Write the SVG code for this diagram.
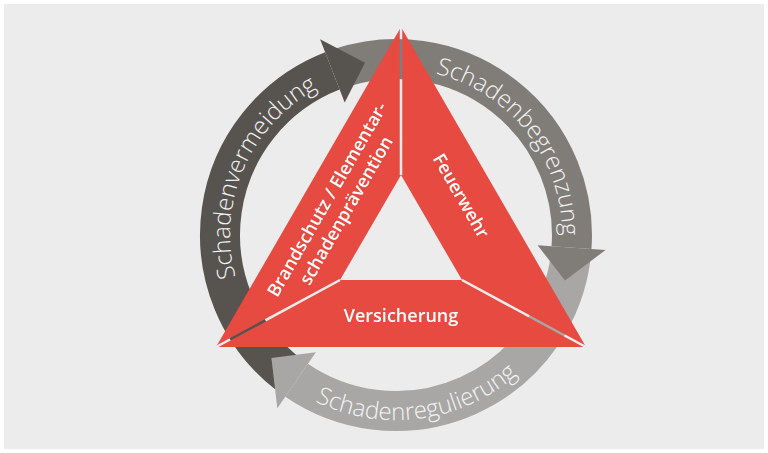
<svg xmlns="http://www.w3.org/2000/svg" width="768" height="453" viewBox="0 0 768 453">
  <style>
    .band { fill: none; stroke-width: 40; stroke-linecap: butt; }
    .ring-label { font-family: "Open Sans", "Noto Sans", "Liberation Sans", sans-serif; font-weight: 300; font-size: 24px; fill: #f4f4f4; }
    .piece { fill: #e64a40; }
    .node-label { font-family: "Open Sans", "Noto Sans", "Liberation Sans", sans-serif; font-weight: 600; font-size: 18px; fill: #ffffff; text-anchor: middle; }
  </style>
  <defs>
    <path id="p-verm" d="M292.7,364.9 A166,166 0 0 1 420.5,70.8"/>
    <path id="p-begr" d="M331.1,82.2 A166,166 0 0 1 528.6,334.9"/>
    <path id="p-regu" d="M225.2,306.1 A185,185 0 0 0 579.5,258.8"/>
    <mask id="gaps" maskUnits="userSpaceOnUse" x="0" y="0" width="768" height="453">
      <rect x="0" y="0" width="768" height="453" fill="#fff"/>
      <g stroke="#000" stroke-width="2.5">
        <line x1="401" y1="15" x2="401" y2="175"/>
        <line x1="340" y1="280" x2="205" y2="353"/>
        <line x1="462" y1="280" x2="597" y2="353"/>
      </g>
    </mask>
  </defs>

  <rect x="4" y="4" width="760" height="445" fill="#ececec"/>

  <g id="connectors">
    <path class="band" stroke="#57534e" d="M289.1,374.8 A176,176 0 0 1 332.4,70.9"/>
    <path class="band" stroke="#807c78" d="M341.0,67.8 A176,176 0 0 1 571.5,247.6"/>
    <path class="band" stroke="#a8a7a5" d="M570.7,256.8 A176,176 0 0 1 296.6,380.2"/>
    <polygon fill="#57534e" points="344.7,102.6 320.1,39.2 365.0,62.8"/>
    <polygon fill="#807c78" points="537.6,245.2 605.5,250.0 565.0,280.6"/>
    <polygon fill="#a8a7a5" points="315.8,352.2 277.3,408.3 271.4,357.9"/>
    <text class="ring-label"><textPath href="#p-verm" startOffset="50%" text-anchor="middle">Schadenvermeidung</textPath></text>
    <text class="ring-label"><textPath href="#p-begr" startOffset="50%" text-anchor="middle">Schadenbegrenzung</textPath></text>
    <text class="ring-label"><textPath href="#p-regu" startOffset="50%" text-anchor="middle">Schadenregulierung</textPath></text>
  </g>

  <g mask="url(#gaps)">
    <g id="node-praevention">
      <polygon class="piece" points="216,347 401,27 401,175 340,280"/>
      <text class="node-label" transform="translate(327.2,199.5) rotate(-60)" y="6">Brandschutz / Elementar-</text>
      <text class="node-label" transform="translate(346.3,210.5) rotate(-60)" y="6">schadenprävention</text>
    </g>
    <g id="node-feuerwehr">
      <polygon class="piece" points="401,27 586,347 462,280 401,175"/>
      <text class="node-label" transform="translate(460.8,195.8) rotate(60)" y="6">Feuerwehr</text>
    </g>
    <g id="node-versicherung">
      <polygon class="piece" points="216,347 340,280 462,280 586,347"/>
      <text class="node-label" x="401" y="322">Versicherung</text>
    </g>
  </g>
</svg>
